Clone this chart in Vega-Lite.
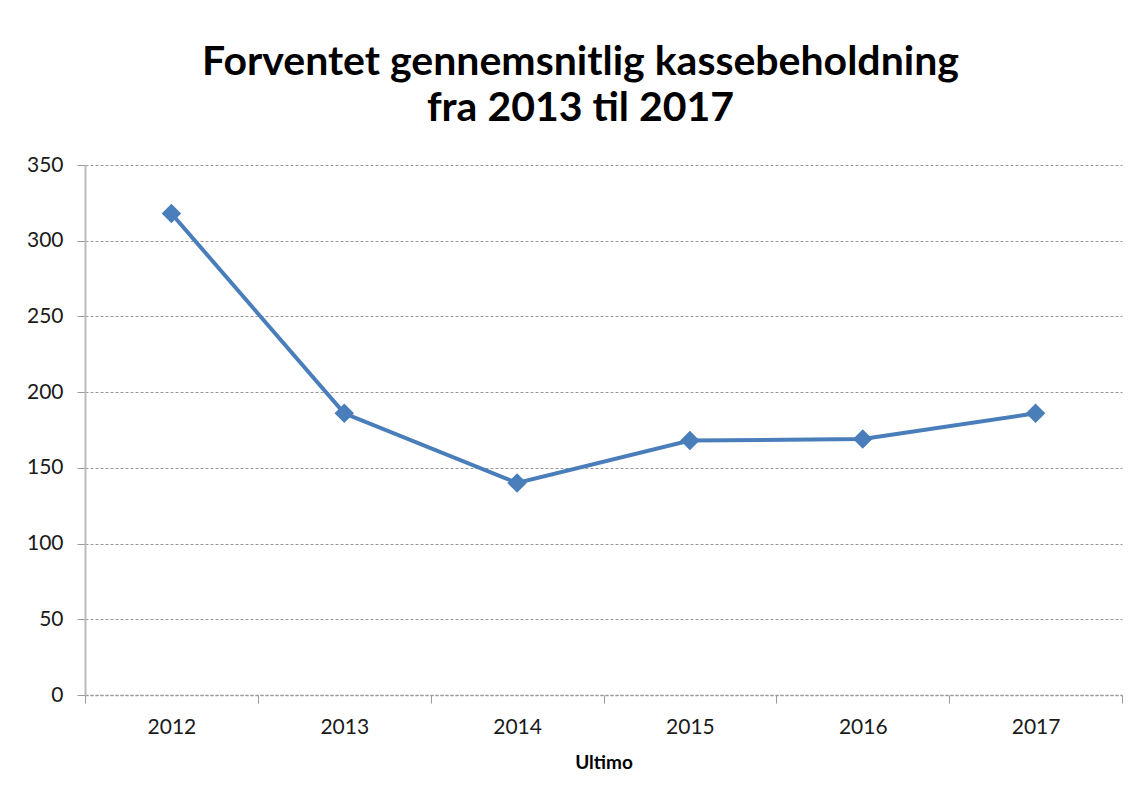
{
  "$schema": "https://vega.github.io/schema/vega-lite/v6.json",
  "autosize": {"type": "none"},
  "width": 1037,
  "height": 530,
  "padding": {"left": 85, "top": 165, "right": 14, "bottom": 106},
  "background": "white",
  "title": {
    "text": ["Forventet gennemsnitlig kassebeholdning", "fra 2013 til 2017"],
    "font": "Lato",
    "fontSize": 41,
    "fontWeight": "bold",
    "color": "#000000",
    "lineHeight": 46,
    "anchor": "middle",
    "frame": "group",
    "offset": 24,
    "dx": -23
  },
  "config": {
    "view": {"stroke": null},
    "axis": {"labelFont": "Lato", "titleFont": "Lato"}
  },
  "data": {
    "values": [
      {"year": "2012", "value": 318},
      {"year": "2013", "value": 186},
      {"year": "2014", "value": 140},
      {"year": "2015", "value": 168},
      {"year": "2016", "value": 169},
      {"year": "2017", "value": 186}
    ]
  },
  "encoding": {
    "x": {
      "field": "year",
      "type": "ordinal",
      "bandPosition": 0.5,
      "scale": {"type": "band", "paddingInner": 0, "paddingOuter": 0},
      "axis": {
        "title": "Ultimo",
        "titleFontSize": 19,
        "titleFontWeight": "bold",
        "titleColor": "#000000",
        "titlePadding": 16,
        "labelAngle": 0,
        "labelFontSize": 21,
        "labelColor": "#1a1a1a",
        "labelPadding": 13,
        "tickBand": "extent",
        "tickSize": 8,
        "tickColor": "#999999",
        "domainColor": "#999999",
        "domainDash": [3, 2],
        "domainWidth": 1.5,
        "grid": false
      }
    },
    "y": {
      "field": "value",
      "type": "quantitative",
      "scale": {"domain": [0, 350]},
      "axis": {
        "title": null,
        "values": [0, 50, 100, 150, 200, 250, 300, 350],
        "labelFontSize": 21,
        "labelColor": "#1a1a1a",
        "labelPadding": 14,
        "tickSize": 8,
        "tickColor": "#999999",
        "domainColor": "#bbbbbb",
        "domainWidth": 2,
        "grid": true,
        "gridColor": "#999999",
        "gridDash": [3, 2],
        "gridWidth": 1.2
      }
    }
  },
  "layer": [
    {
      "mark": {"type": "line", "color": "#4a7ebb", "strokeWidth": 4}
    },
    {
      "mark": {"type": "point", "shape": "diamond", "filled": true, "color": "#4a7ebb", "opacity": 1, "size": 380}
    }
  ]
}
